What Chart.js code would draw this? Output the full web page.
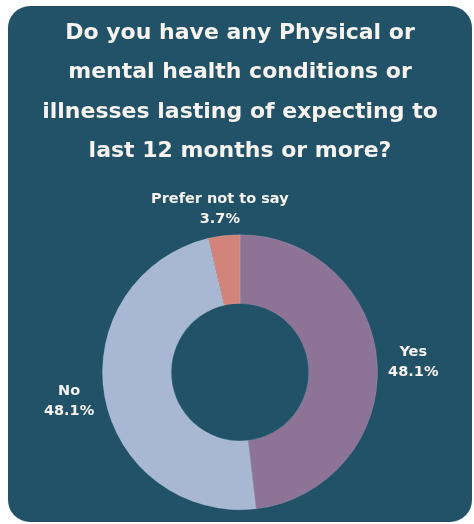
<!DOCTYPE html>
<html>
<head>
<meta charset="utf-8">
<script src="https://cdn.jsdelivr.net/npm/chart.js@4"></script>
<style>
  html, body { margin: 0; padding: 0; background: #ffffff; }
  #card {
    position: absolute; left: 8px; top: 6px;
    width: 464px; height: 516px;
    background: #215268; border-radius: 22px;
  }
</style>
</head>
<body>
<div id="card"><canvas id="pieChart" width="464" height="516"></canvas></div>
<script>
var categories = ['Yes', 'No', 'Prefer not to say'];
var percents = [48.1, 48.1, 3.7];
var sliceColors = ['#8d7396', '#a8b8d3', '#d3847a'];
var titleLines = [
    'Do you have any Physical or',
    'mental health conditions or',
    'illnesses lasting of expecting to',
    'last 12 months or more?'
];

// labels drawn outside each slice, two lines: name + percent
var outsideLabels = {
    id: 'outsideLabels',
    afterDatasetsDraw: function (chart) {
        var ctx = chart.ctx;
        var meta = chart.getDatasetMeta(0);
        ctx.save();
        ctx.fillStyle = '#f7f3ef';
        ctx.font = 'bold 14.5px "DejaVu Sans"';
        ctx.textAlign = 'center';
        ctx.textBaseline = 'middle';
        meta.data.forEach(function (arc, i) {
            var mid = (arc.startAngle + arc.endAngle) / 2;
            var x = arc.x + Math.cos(mid) * (arc.outerRadius + 36);
            var y = arc.y + Math.sin(mid) * (arc.outerRadius + 27);
            ctx.fillText(categories[i], x, y - 10);
            ctx.fillText(percents[i].toFixed(1) + '%', x, y + 10);
        });
        ctx.restore();
    }
};

var ctx = document.getElementById('pieChart').getContext('2d');
var pieChart = new Chart(ctx, {
    type: 'doughnut',
    data: {
        labels: categories,
        datasets: [{
            data: percents,
            backgroundColor: sliceColors,
            borderColor: 'rgba(255,255,255,0.25)',
            borderWidth: 0.5
        }]
    },
    options: {
        responsive: false,
        animation: false,
        cutout: '50%',
        layout: { padding: { top: 0, bottom: 12, left: 0, right: 0 } },
        plugins: {
            legend: { display: false },
            tooltip: { enabled: false },
            title: {
                display: true,
                text: titleLines,
                color: '#f7f3ef',
                font: { family: 'DejaVu Sans', size: 22, weight: 'bold', lineHeight: 1.8 },
                padding: { top: 7, bottom: 63 }
            }
        }
    },
    plugins: [outsideLabels]
});
</script>
</body>
</html>
